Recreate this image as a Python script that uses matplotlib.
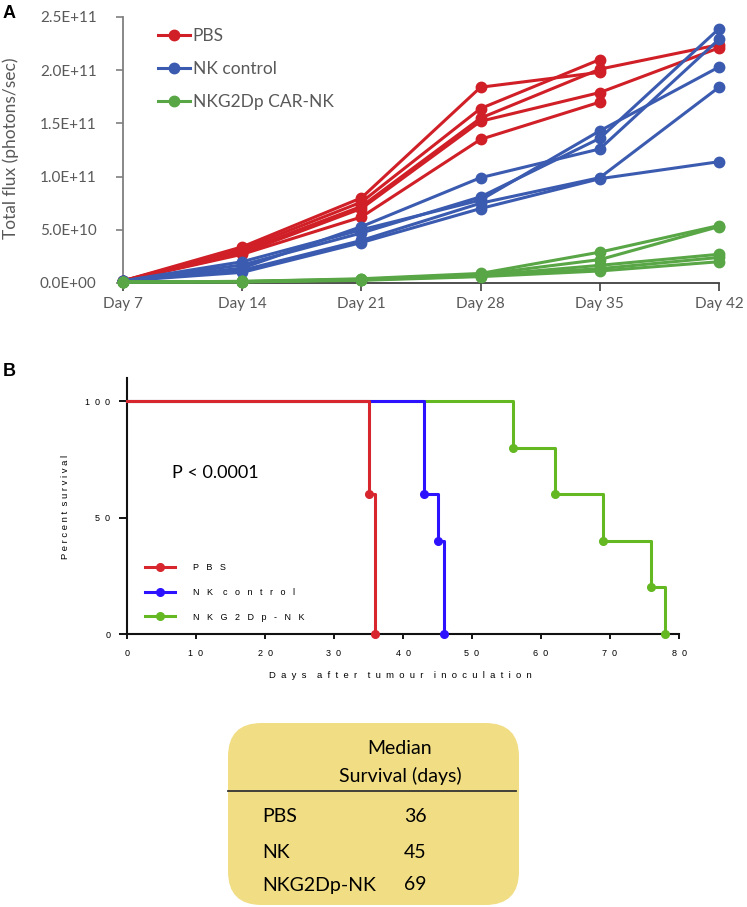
import numpy as np
import matplotlib
matplotlib.use("Agg")
import matplotlib.pyplot as plt
from matplotlib.patches import FancyBboxPatch
from matplotlib.lines import Line2D
from matplotlib.ticker import FuncFormatter

# ---------------- Panel A data (photons/sec, x1e9) ----------------
days = ["Day 7", "Day 14", "Day 21", "Day 28", "Day 35", "Day 42"]
nan = np.nan
pbs_1 = [2, 34, 80, 184, 198, nan]
pbs_2 = [2, 32, 76, 164, 210, nan]
pbs_3 = [2, 30, 72, 155, 201, 224]
pbs_4 = [2, 28, 70, 152, 179, 221]
pbs_5 = [2, 27, 62, 135, 170, nan]

nk_1 = [2, 20, 50, 78, 143, 203]
nk_2 = [2, 17, 47, 81, 136, 239]
nk_3 = [2, 14, 53, 99, 126, 229]
nk_4 = [2, 12, 40, 75, 99, 184]
nk_5 = [2, 10, 38, 70, 98, 114]

car_1 = [1, 1.5, 4.0, 9.0, 29.0, 54]
car_2 = [1, 1.5, 3.5, 8.0, 22.0, 53]
car_3 = [1, 1.2, 3.0, 7.0, 16.6, 27]
car_4 = [1, 1.2, 3.0, 6.5, 13.5, 24]
car_5 = [1, 1.0, 2.5, 6.0, 11.3, 20]

group_names_a = ["PBS", "NK control", "NKG2Dp CAR-NK"]
y_ticks_a = [0, 5e10, 1e11, 1.5e11, 2e11, 2.5e11]

# ---------------- Panel B data (Kaplan-Meier) ----------------
pbs_t = [0, 35, 36]
pbs_s = [100, 60, 0]
nk_t = [0, 43, 45, 46]
nk_s = [100, 60, 40, 0]
car_t = [0, 56, 62, 69, 76, 78]
car_s = [100, 80, 60, 40, 20, 0]
group_names_b = ["PBS", "NK control", "NKG2Dp-NK"]
p_text = "P < 0.0001"

# ---------------- Table ----------------
table_groups = ["PBS", "NK", "NKG2Dp-NK"]
table_medians = ["36", "45", "69"]

W, H = 747, 907
fig = plt.figure(figsize=(W / 100, H / 100), dpi=100)

def fx(x):
    return x / W

def fy(y):
    return 1 - y / H

RED_A, BLUE_A, GREEN_A = "#D01F27", "#3B5BB0", "#59A646"
GREY = "#595959"
sans_a = ["Lato", "DejaVu Sans"]

# ================= Panel A =================
axA = fig.add_axes([fx(123), fy(283), fx(719) - fx(123), fy(17) - fy(283)])
x = np.arange(len(days))
groups = [
    ([pbs_1, pbs_2, pbs_3, pbs_4, pbs_5], RED_A),
    ([nk_1, nk_2, nk_3, nk_4, nk_5], BLUE_A),
    ([car_1, car_2, car_3, car_4, car_5], GREEN_A),
]
for gi, (series, col) in enumerate(groups):
    for s in series:
        vals = np.array(s, dtype=float) * 1e9
        axA.plot(x, vals, color=col, lw=2.2, marker="o", ms=7.5,
                 clip_on=False, zorder=3 + gi * 0.1)

axA.set_xlim(0, len(days) - 1)
axA.set_ylim(0, 2.5e11)
axA.set_xticks(x)
axA.set_xticklabels(days)
axA.set_yticks(y_ticks_a)
axA.yaxis.set_major_formatter(FuncFormatter(lambda v, p: "{:.1E}".format(v)))
for sp in ["top", "right"]:
    axA.spines[sp].set_visible(False)
axA.spines["left"].set_color("#7f7f7f")
axA.spines["left"].set_linewidth(1.3)
axA.spines["bottom"].set_color("#404040")
axA.spines["bottom"].set_linewidth(1.3)
axA.tick_params(axis="y", direction="out", length=5, width=1.2, color="#7f7f7f",
                pad=14, labelsize=11, labelcolor=GREY)
axA.tick_params(axis="x", direction="out", length=6, width=1.2, color="#404040",
                pad=4, labelsize=11, labelcolor=GREY)
for lab in axA.get_xticklabels() + axA.get_yticklabels():
    lab.set_family(sans_a)

fig.text(fx(11), fy(148), "Total flux (photons/sec)", rotation=90, ha="center",
         va="center", fontsize=12.5, color=GREY, family=sans_a)

handles_a = [Line2D([], [], color=c, lw=2.2, marker="o", ms=7.5)
             for c in (RED_A, BLUE_A, GREEN_A)]
legA = axA.legend(handles_a, group_names_a, loc="upper left",
                  bbox_to_anchor=(fx(158), fy(28)), bbox_transform=fig.transFigure,
                  frameon=False, handlelength=1.85, handletextpad=0.15,
                  labelspacing=0.98, borderpad=0, borderaxespad=0,
                  prop={"family": sans_a, "size": 12.5})
for t in legA.get_texts():
    t.set_color(GREY)

fig.text(fx(3), fy(14), "A", fontsize=13, fontweight="bold", va="center",
         family="Liberation Sans")
fig.text(fx(3), fy(372), "B", fontsize=13, fontweight="bold", va="center",
         family="Liberation Sans")

# ================= Panel B =================
RED_B, BLUE_B, GREEN_B = "#D7262E", "#2D12FF", "#64B822"
sans_b = ["Liberation Sans", "DejaVu Sans"]

def spaced(s, n=1, word_extra=1):
    words = s.split(" ")
    return (" " * (n + word_extra)).join((" " * n).join(w) for w in words)

axB = fig.add_axes([fx(127), fy(634), fx(679) - fx(127), fy(378) - fy(634)])
km = [(car_t, car_s, GREEN_B), (nk_t, nk_s, BLUE_B), (pbs_t, pbs_s, RED_B)]
for t, s, col in km:
    axB.step(t, s, where="post", color=col, lw=2.2, zorder=3, clip_on=False)
    axB.plot(t[1:], s[1:], "o", color=col, ms=5.5, zorder=4, clip_on=False)

axB.set_xlim(0, 80)
axB.set_ylim(0, 110)
axB.set_xticks(range(0, 81, 10))
axB.set_xticklabels([spaced(str(v), 2) for v in range(0, 81, 10)])
axB.set_yticks([0, 50, 100])
axB.set_yticklabels([spaced(str(v), 2) for v in (0, 50, 100)])
for sp in ["top", "right"]:
    axB.spines[sp].set_visible(False)
for sp in ["left", "bottom"]:
    axB.spines[sp].set_linewidth(1.5)
    axB.spines[sp].set_color("#111111")
axB.tick_params(axis="y", direction="out", length=6, width=1.3, pad=6, labelsize=6.5)
axB.tick_params(axis="x", direction="out", length=3.5, width=1.3, pad=7, labelsize=6.5)
for lab in axB.get_xticklabels() + axB.get_yticklabels():
    lab.set_family(sans_b)

fig.text(fx(400), fy(675), spaced("Days after tumour inoculation", 2, 2), ha="center",
         va="center", fontsize=6.8, family=sans_b)
fig.text(fx(65), fy(507), spaced("Percent survival", 1, 1), rotation=90, ha="center",
         va="center", fontsize=6.8, family=sans_b)
axB.text(fx(172), fy(473), p_text, transform=fig.transFigure, ha="left",
         va="center", fontsize=13, family=sans_a)

handles_b = [Line2D([], [], color=c, lw=2.2, marker="o", ms=5.5)
             for c in (RED_B, BLUE_B, GREEN_B)]
legB = axB.legend(handles_b, [spaced(n, 3, 1) for n in group_names_b], loc="upper left",
                  bbox_to_anchor=(fx(145), fy(563)), bbox_transform=fig.transFigure,
                  frameon=False, handlelength=3.3, handletextpad=2.0,
                  labelspacing=1.75, borderpad=0, borderaxespad=0,
                  prop={"family": sans_b, "size": 6.5})

# ================= Table =================
box = FancyBboxPatch((fx(228), fy(905)), fx(519) - fx(228), fy(723) - fy(905),
                     boxstyle="round,pad=0,rounding_size=0.045",
                     transform=fig.transFigure, facecolor="#F1DD84",
                     edgecolor="none", zorder=0,
                     mutation_aspect=W / H)
fig.patches.append(box)
fig.text(fx(400), fy(749), "Median", ha="center", va="center", fontsize=14,
         family=sans_a)
fig.text(fx(400), fy(776), "Survival (days)", ha="center", va="center", fontsize=14,
         family=sans_a)
fig.add_artist(Line2D([fx(228), fx(516)], [fy(791), fy(791)], color="#333333",
                      lw=1.3, transform=fig.transFigure))
for i, (g, m) in enumerate(zip(table_groups, table_medians)):
    yy = [817, 852, 885][i]
    fig.text(fx(262), fy(yy), g, ha="left", va="center", fontsize=14, family=sans_a)
    fig.text(fx(404), fy(yy), m, ha="left", va="center", fontsize=14, family=sans_a)

fig.savefig("out.png", dpi=100)
